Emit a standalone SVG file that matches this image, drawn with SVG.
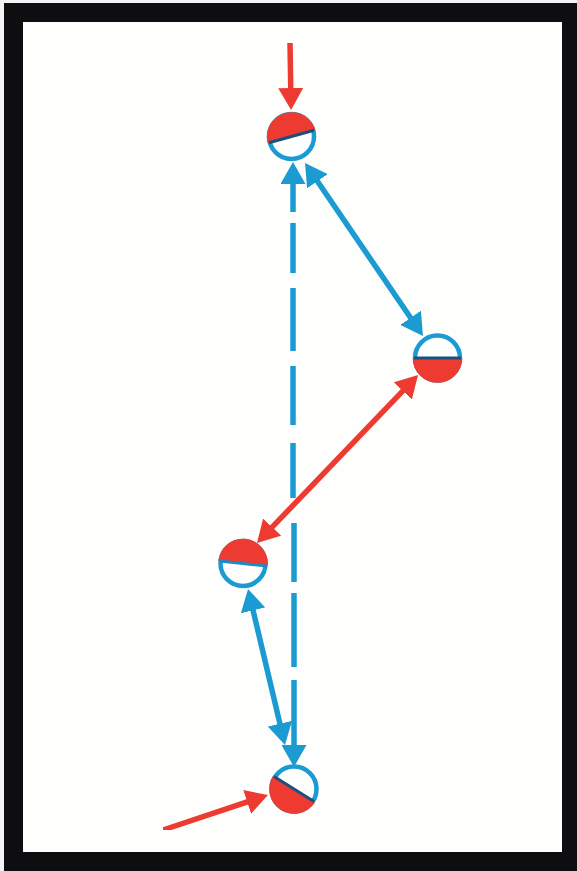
<svg xmlns="http://www.w3.org/2000/svg" width="577" height="871" viewBox="0 0 577 871">
<style>
.b{stroke:#1a9bd2;stroke-width:5.500;fill:none}
.r{stroke:#ee3b30;stroke-width:5.500;fill:none}
.hb{fill:#1a9bd2}
.hr{fill:#ee3b30}
.ring{fill:#fff;stroke:#1a9bd2;stroke-width:4.500}
.half{fill:#ee3b30}
.div{stroke:#1b4f7c;stroke-width:3;fill:none}
.divb{stroke:#1a8cc4;stroke-width:3;fill:none}
</style>
<defs>
<filter id="soft" x="0" y="0" width="100%" height="100%"><feGaussianBlur stdDeviation="0.7"/></filter>
<marker id="ab" viewBox="0 0 22 25" refX="16" refY="12.500" markerUnits="userSpaceOnUse" markerWidth="22" markerHeight="25" orient="auto-start-reverse"><path d="M0 0L22 12.500L0 25Z" class="hb"/></marker>
<marker id="ar" viewBox="0 0 22 25" refX="16" refY="12.500" markerUnits="userSpaceOnUse" markerWidth="22" markerHeight="25" orient="auto-start-reverse"><path d="M0 0L22 12.500L0 25Z" class="hr"/></marker>
</defs>
<rect x="0" y="0" width="577" height="871" fill="#f4f4f4"/>
<rect x="4" y="3" width="573" height="868" fill="#0e0e10"/>
<rect x="23" y="22" width="539" height="830" fill="#fefefd"/>
<g filter="url(#soft)">
<g id="connectors">
<path class="r" d="M290 43L291 104" marker-end="url(#ar)"/>
<path class="b" d="M293 168V212M293 223V273M293 288V351M293 366V425M293 443V498M294 523V582M294 593V667M294 680V761" marker-start="url(#ab)" marker-end="url(#ab)"/>
<path class="b" d="M308.400 168L419.600 331" marker-start="url(#ab)" marker-end="url(#ab)"/>
<path class="r" d="M413.900 379.300L261.100 538.700" marker-start="url(#ar)" marker-end="url(#ar)"/>
<path class="b" d="M249.400 594.800L283.600 739.200" marker-start="url(#ab)" marker-end="url(#ab)"/>
<path class="r" d="M163 830L262.300 796.900" marker-end="url(#ar)"/>
</g>
<g id="node-1"><circle class="ring" cx="291.500" cy="136.500" r="22.500"/><path class="half" d="M267.600 143.100A24.800 24.800 0 0 1 315.400 129.900Z"/><path class="div" d="M269 142.700L314 130.300"/></g>
<g id="node-2"><circle class="ring" cx="437.500" cy="358" r="22.500"/><path class="half" d="M412.700 358A24.800 24.800 0 0 0 462.300 358Z"/><path class="div" d="M414 358H461"/></g>
<g id="node-3"><circle class="ring" cx="243" cy="563.500" r="22.500"/><path class="half" d="M218.300 560.900A24.800 24.800 0 0 1 267.700 566.100Z"/><path class="divb" d="M219.500 561L266.500 566"/></g>
<g id="node-4"><circle class="ring" cx="294" cy="789" r="22.500"/><path class="half" d="M273 775.800A24.800 24.800 0 0 0 315 802.200Z"/><path class="div" d="M274 776.500L314 801.500"/></g>
</g>
</svg>
